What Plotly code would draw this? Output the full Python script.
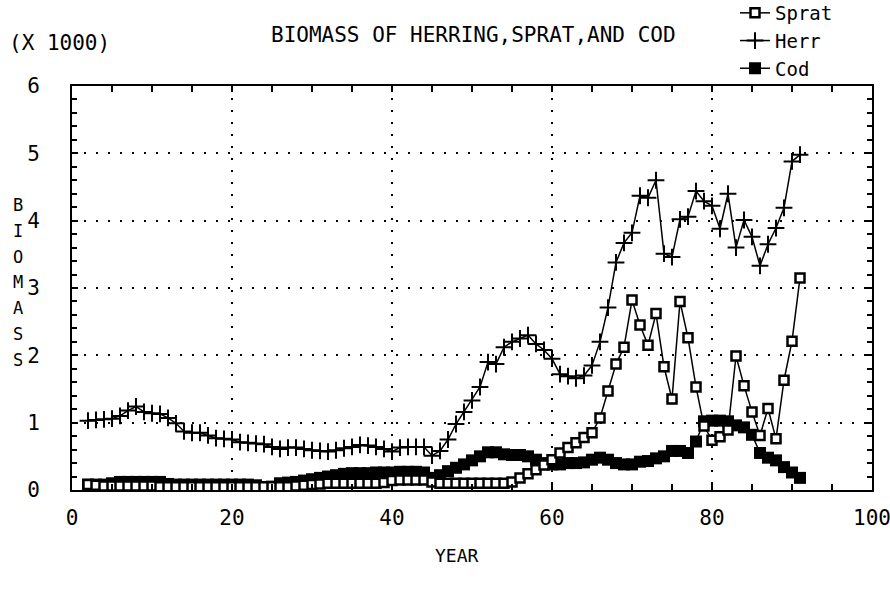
import plotly.graph_objects as go

# Simulated stock biomass (thousands) by model year
years = list(range(2, 92))

herring = [
    1.03, 1.04, 1.05, 1.06, 1.10, 1.18, 1.24, 1.16, 1.14, 1.13,
    1.07, 0.99, 0.87, 0.85, 0.85, 0.81, 0.77, 0.76, 0.75, 0.71,
    0.70, 0.69, 0.68, 0.64, 0.61, 0.63, 0.63, 0.61, 0.59, 0.58,
    0.57, 0.59, 0.62, 0.64, 0.67, 0.66, 0.64, 0.61, 0.57, 0.63,
    0.64, 0.64, 0.64, 0.51, 0.58, 0.75, 0.98, 1.16, 1.33, 1.53,
    1.90, 1.87, 2.12, 2.20, 2.25, 2.30, 2.17, 2.08, 1.95, 1.72,
    1.69, 1.66, 1.70, 1.85, 2.20, 2.71, 3.38, 3.67, 3.82, 4.37,
    4.34, 4.60, 3.51, 3.46, 4.02, 4.06, 4.44, 4.29, 4.22, 3.88,
    4.40, 3.60, 4.01, 3.76, 3.33, 3.65, 3.89, 4.19, 4.88, 4.98,
]

sprat = [
    0.08, 0.07, 0.06, 0.06, 0.06, 0.06, 0.06, 0.06, 0.06, 0.05,
    0.05, 0.05, 0.05, 0.05, 0.05, 0.05, 0.05, 0.05, 0.05, 0.05,
    0.05, 0.05, 0.05, 0.05, 0.05, 0.05, 0.06, 0.07, 0.08, 0.09,
    0.10, 0.10, 0.10, 0.10, 0.10, 0.10, 0.10, 0.11, 0.14, 0.15,
    0.15, 0.15, 0.15, 0.12, 0.10, 0.10, 0.10, 0.10, 0.10, 0.10,
    0.10, 0.10, 0.10, 0.12, 0.18, 0.24, 0.30, 0.37, 0.45, 0.55,
    0.63, 0.70, 0.78, 0.85, 1.07, 1.47, 1.87, 2.12, 2.82, 2.45,
    2.15, 2.62, 1.83, 1.35, 2.80, 2.26, 1.53, 0.95, 0.74, 0.79,
    0.89, 1.99, 1.55, 1.16, 0.81, 1.21, 0.76, 1.63, 2.21, 3.15,
]

cod = [
    0.08, 0.08, 0.08, 0.10, 0.12, 0.12, 0.12, 0.12, 0.12, 0.12,
    0.09, 0.08, 0.08, 0.08, 0.08, 0.08, 0.08, 0.08, 0.08, 0.08,
    0.08, 0.07, 0.04, 0.05, 0.10, 0.11, 0.12, 0.14, 0.16, 0.18,
    0.20, 0.22, 0.24, 0.25, 0.25, 0.25, 0.26, 0.26, 0.26, 0.27,
    0.27, 0.27, 0.26, 0.18, 0.22, 0.28, 0.33, 0.38, 0.44, 0.50,
    0.56, 0.56, 0.53, 0.52, 0.52, 0.50, 0.45, 0.40, 0.38, 0.38,
    0.40, 0.40, 0.41, 0.45, 0.48, 0.45, 0.40, 0.38, 0.38, 0.42,
    0.43, 0.47, 0.50, 0.58, 0.58, 0.55, 0.72, 1.02, 1.03, 1.03,
    1.02, 0.96, 0.93, 0.82, 0.55, 0.48, 0.44, 0.34, 0.26, 0.18,
]

FONT = "DejaVu Sans Mono"
INK = "black"

fig = go.Figure()

fig.add_trace(go.Scatter(
    x=years, y=cod, name="Cod", mode="lines+markers", legendrank=3,
    line=dict(color=INK, width=1.5),
    marker=dict(symbol="square", size=12, color=INK),
))
fig.add_trace(go.Scatter(
    x=years, y=sprat, name="Sprat", mode="lines+markers", legendrank=1,
    line=dict(color=INK, width=1.5),
    marker=dict(symbol="square", size=9, color="white",
                line=dict(color=INK, width=2.5)),
))
fig.add_trace(go.Scatter(
    x=years, y=herring, name="Herr", mode="lines+markers", legendrank=2,
    line=dict(color=INK, width=1.5),
    marker=dict(symbol="cross-thin", size=12, color=INK,
                line=dict(color=INK, width=2)),
))

L, R, T, B = 72, 872, 86, 490
W, H = 890, 589


def px(x, y):
    return (x - L) / (R - L), (B - y) / (B - T)


axis_common = dict(
    showline=True, linecolor=INK, linewidth=2, mirror="ticks",
    ticks="inside", tickcolor=INK, tickwidth=1.5, ticklen=6,
    showgrid=True, gridcolor=INK, gridwidth=2, griddash="2px,10px",
    zeroline=False, ticklabeloverflow="allow", automargin=False,
    tickfont=dict(family=FONT, size=21, color=INK),
)

fig.update_xaxes(
    range=[0, 100], dtick=20, tick0=0, ticklabelstandoff=8,
    minor=dict(dtick=5, ticks="inside", ticklen=6, tickcolor=INK, showgrid=False),
    **axis_common,
)
fig.update_yaxes(
    range=[0, 6], dtick=1, tick0=0, ticklabelstandoff=26,
    minor=dict(dtick=0.2, ticks="inside", ticklen=5, tickcolor=INK, showgrid=False),
    **axis_common,
)

annotations = []


def label(text, x, y, size=20):
    ax, ay = px(x, y)
    annotations.append(dict(
        text=text, x=ax, y=ay, xref="paper", yref="paper", showarrow=False,
        xanchor="center", yanchor="middle",
        font=dict(family=FONT, size=size, color=INK),
    ))


label("BIOMASS OF HERRING,SPRAT,AND COD", 473, 35, size=21)
label("(X 1000)", 59, 43, size=21)
label("YEAR", 457, 555, size=18)
# vertical axis title, one letter per row
for i, ch in enumerate("BIOMASS"):
    label(ch, 18, 205 + 25.8 * i, size=17)

fig.update_layout(
    width=W, height=H,
    margin=dict(l=L, r=W - R, t=T, b=H - B, autoexpand=False),
    paper_bgcolor="white", plot_bgcolor="white",
    showlegend=True,
    legend=dict(
        x=px(735, 0)[0], y=px(0, -6)[1], xanchor="left", yanchor="top",
        font=dict(family=FONT, size=19, color=INK),
        bgcolor="rgba(0,0,0,0)", itemwidth=30, tracegroupgap=0,
    ),
    annotations=annotations,
)

fig.write_html("out.html")
